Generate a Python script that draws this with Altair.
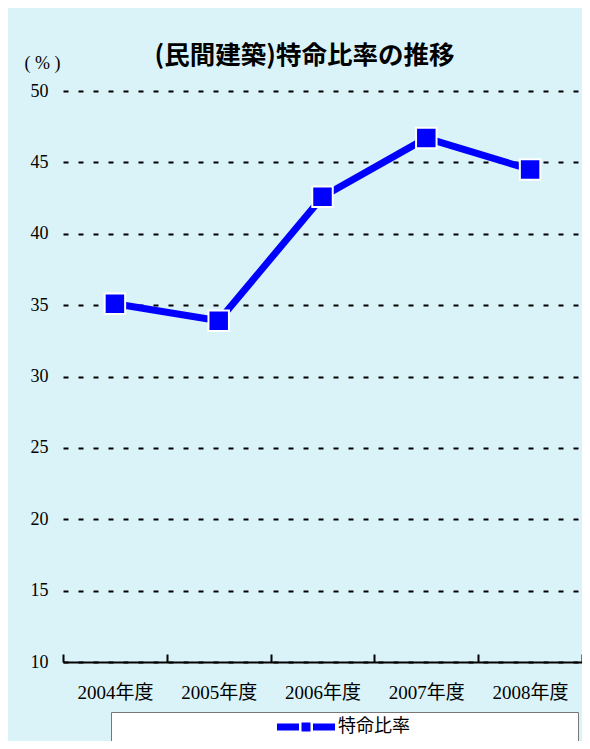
import altair as alt
import pandas as pd

years = ["2004年度", "2005年度", "2006年度", "2007年度", "2008年度"]
rates = [35.1, 33.9, 42.6, 46.7, 44.5]
series = ["特命比率"] * len(years)
y_ticks = [10, 15, 20, 25, 30, 35, 40, 45, 50]

df = pd.DataFrame({"year": years, "rate": rates, "series": series})

BLUE = "#0000ff"
SERIF_CJK = "Liberation Serif, Noto Sans CJK JP"
CJK = "Noto Sans CJK JP"

legend_path = ("M-2.9,-0.35 H-0.7 V0.35 H-2.9 Z "
               "M-0.45,-0.45 H0.45 V0.45 H-0.45 Z "
               "M0.7,-0.35 H2.9 V0.35 H0.7 Z")

chart = alt.Chart(df).mark_line(
    strokeWidth=7,
    point=alt.OverlayMarkDef(shape="square", size=420, filled=True, fill=BLUE,
                             stroke="white", strokeWidth=2, opacity=1),
).encode(
    x=alt.X("year:N", sort=years,
            scale=alt.Scale(type="band", paddingInner=0, paddingOuter=0),
            axis=alt.Axis(orient="top", offset=-571, title=None, labelAngle=0,
                          domainColor="black", domainWidth=2,
                          tickColor="black", tickWidth=2, tickSize=8,
                          tickBand="extent", labelPadding=-38,
                          labelBaseline="middle", labelFont=SERIF_CJK,
                          labelFontSize=19, labelColor="black", grid=False)),
    y=alt.Y("rate:Q", scale=alt.Scale(domain=[10, 50], nice=False, zero=False),
            axis=alt.Axis(values=y_ticks, title="( % )", titleAngle=0,
                          titleX=-21, titleY=-28, titleAlign="center",
                          titleBaseline="middle", titleFont="Liberation Serif",
                          titleFontSize=18, titleFontWeight="normal",
                          titleColor="black",
                          domain=False, ticks=False, tickSize=0, labelPadding=15,
                          labelFont="Liberation Serif", labelFontSize=18,
                          labelColor="black",
                          grid=True, gridColor="black", gridWidth=2,
                          gridDash=[5, 10], gridOpacity=1)),
    color=alt.Color("series:N", scale=alt.Scale(range=[BLUE]),
                    legend=alt.Legend(orient="none", legendX=48, legendY=621,
                                      direction="horizontal",
                                      title="\u3000" * 8, titleOrient="right",
                                      titleFontSize=17, titlePadding=163,
                                      padding=5, fillColor="white",
                                      strokeColor="#777777",
                                      symbolType=legend_path, symbolSize=400,
                                      symbolFillColor=BLUE, symbolStrokeColor=BLUE,
                                      symbolStrokeWidth=0, symbolOpacity=1,
                                      symbolOffset=180, labelOffset=22,
                                      labelFont=CJK, labelFontSize=18,
                                      labelColor="black")),
).properties(
    width=519,
    height=571,
    title=alt.TitleParams("(民間建築)特命比率の推移", font=CJK, fontSize=25.5,
                          fontWeight="bold", color="black", anchor="middle",
                          frame="group", offset=33, baseline="middle", dx=-18,
                          dy=60),
    padding={"left": 55, "top": 83, "right": 0, "bottom": 79},
    autosize=alt.AutoSizeParams(type="none"),
).configure(
    background="#daf3f8",
).configure_view(
    stroke=None,
)

chart.save("out.html", embed_options={"renderer": "svg", "actions": False})
